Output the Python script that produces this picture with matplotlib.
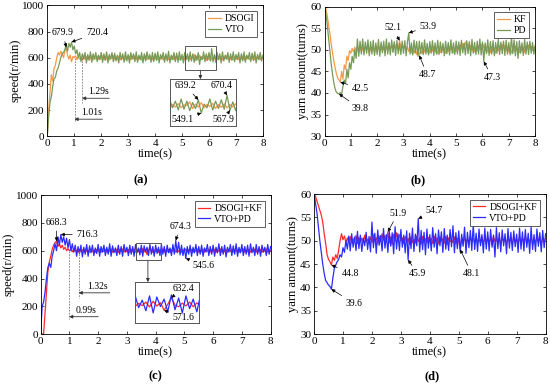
import numpy as np
import matplotlib.pyplot as plt
from matplotlib.patches import Rectangle

plt.rcParams['font.family'] = ['Liberation Serif', 'DejaVu Serif']
plt.rcParams['mathtext.fontset'] = 'stix'

# sample times (0.05 s step)
time_s = np.linspace(0, 8, 161)

# (a) speed, DSOGI vs VTO
speed_dsogi = [
    0, 200, 330, 470, 420, 520, 540, 600, 640, 620, 650, 630, 600, 650, 680, 620, 590, 620, 570, 610,
    600, 615, 585, 610, 590, 605, 580, 612, 588, 608, 585, 610, 592, 615, 583, 606, 590, 612, 586, 604,
    592, 614, 584, 608, 590, 612, 582, 606, 594, 616, 585, 607, 589, 611, 583, 605, 593, 613, 586, 609,
    588, 612, 584, 607, 591, 614, 586, 606, 589, 610, 583, 608, 592, 615, 585, 605, 588, 611, 584, 607,
    590, 613, 585, 606, 589, 612, 583, 608, 591, 614, 586, 605, 588, 610, 584, 607, 592, 613, 585, 606,
    589, 611, 583, 607, 590, 614, 586, 605, 600, 625, 580, 610, 590, 620, 585, 608, 594, 615, 580, 606,
    588, 612, 584, 607, 591, 613, 585, 606, 589, 611, 583, 608, 592, 614, 586, 605, 588, 610, 584, 607,
    590, 612, 585, 606, 589, 613, 583, 608, 591, 614, 586, 605, 588, 611, 584, 607, 592, 613, 585, 606,
    595]
speed_vto = [
    0, 150, 260, 300, 380, 440, 450, 500, 520, 560, 600, 630, 640, 660, 700, 650, 710, 680, 720, 660,
    690, 630, 660, 600, 640, 570, 630, 590, 640, 560, 625, 580, 645, 565, 630, 590, 640, 570, 620, 585,
    640, 565, 630, 580, 645, 560, 625, 590, 640, 570, 635, 575, 620, 560, 640, 585, 630, 565, 645, 575,
    625, 560, 640, 590, 630, 570, 645, 565, 620, 585, 640, 560, 630, 575, 645, 590, 625, 565, 640, 570,
    635, 580, 645, 560, 625, 590, 640, 565, 630, 575, 650, 560, 620, 585, 640, 570, 635, 565, 645, 580,
    625, 560, 640, 585, 630, 570, 645, 575, 630, 565, 620, 580, 639, 549, 610, 585, 645, 570, 630, 580,
    640, 575, 670, 568, 625, 565, 640, 585, 630, 560, 645, 575, 620, 590, 640, 565, 630, 580, 645, 570,
    625, 585, 640, 560, 630, 575, 645, 565, 620, 590, 640, 570, 635, 580, 645, 560, 625, 585, 640, 575,
    620]

# (b) yarn amount, KF vs PD
yarn_kf = [
    60, 59.5, 58, 56, 54, 51.5, 49.5, 47.5, 46, 44.5, 43.5, 43, 42.5, 45, 43.2, 46.5, 45.5, 48.5, 47.5, 49.8,
    49.2, 50.3, 49.5, 50.6, 49.8, 50.2, 49.4, 50.8, 49.6, 50.4, 49.3, 50.7, 49.9, 50.5, 49.2, 50.6, 49.7, 50.3, 49.4, 50.8,
    49.5, 50.9, 49.8, 51.2, 49.6, 50.7, 49.3, 51.0, 49.8, 51.4, 50.2, 51.1, 49.7, 51.5, 50.3, 51.3, 49.9, 52.1, 50.5, 51.2,
    50.4, 51.0, 49.8, 50.7, 49.6, 50.5, 49.3, 50.4, 49.2, 50.1, 48.9, 49.9, 48.7, 49.8, 49.1, 50.3, 49.5, 50.6, 49.4, 50.2,
    49.3, 50.5, 49.7, 50.8, 49.5, 50.3, 49.1, 50.2, 49.4, 50.6, 49.8, 50.4, 49.2, 50.1, 49.6, 50.7, 49.9, 50.5, 49.3, 50.2,
    49.6, 50.8, 50.1, 51.2, 50.4, 51.5, 50.6, 51.8, 50.9, 51.4, 50.3, 51.0, 49.8, 50.6, 49.5, 50.3, 49.7, 50.9, 50.1, 51.3,
    50.4, 51.1, 49.9, 50.5, 49.5, 50.2, 49.3, 50.6, 49.6, 50.4, 49.2, 50.3, 49.8, 50.9, 50.2, 51.3, 50.5, 51.0, 49.8, 50.6,
    49.5, 50.3, 49.2, 50.5, 49.6, 50.8, 49.9, 50.4, 49.3, 50.7, 49.7, 50.5, 49.4, 50.9, 50.2, 51.1, 50.4, 50.8, 50.0, 50.6,
    50.5]
yarn_pd = [
    60, 58.5, 56, 53, 50, 47, 44.5, 42.5, 41, 40.2, 39.9, 39.8, 40.1, 39.8, 41.5, 43, 42.2, 45.5, 43.5, 47,
    45.5, 48.5, 47, 50, 48, 52.5, 48.5, 52, 49, 52.5, 48.8, 51.8, 49.2, 52.3, 48.6, 51.9, 49, 52.2, 48.7, 51.6,
    48.9, 52.4, 48.5, 51.8, 49.3, 52.0, 48.6, 52.5, 49.0, 51.7, 48.8, 52.3, 49.4, 51.9, 48.7, 52.2, 49.1, 51.5, 48.9, 52.0,
    49.2, 52.1, 48.6, 51.8, 53.9, 49.0, 51.6, 48.8, 52.2, 49.3, 51.9, 48.5, 52.0, 49.2, 51.7, 48.9, 52.3, 49.0, 51.5, 48.8,
    51.9, 49.2, 52.1, 48.7, 51.6, 49.0, 52.2, 48.9, 51.8, 49.3, 51.5, 48.6, 52.0, 49.1, 51.7, 48.8, 52.3, 49.2, 51.6, 48.9,
    52.0, 49.0, 51.8, 48.7, 52.2, 49.3, 51.5, 48.8, 52.1, 49.1, 51.9, 48.6, 52.4, 49.2, 51.7, 48.9, 52.0, 49.0, 52.5, 48.8,
    51.8, 47.3, 51.6, 49.1, 52.3, 48.7, 51.9, 49.0, 52.1, 48.6, 51.7, 49.2, 52.4, 48.9, 51.8, 49.1, 52.0, 48.7, 52.2, 49.0,
    51.7, 48.8, 53.0, 49.1, 52.3, 48.6, 51.9, 48.0, 52.1, 49.2, 51.6, 48.7, 52.4, 49.0, 51.8, 48.9, 52.0, 49.2, 51.7, 49.0,
    51.0]

# (c) speed, DSOGI+KF vs VTO+PD
speed_dsogi_kf = [
    0, 0, 0, 150, 300, 450, 520, 560, 610, 640, 660, 668, 630, 650, 620, 640, 610, 625, 600, 615,
    600, 612, 592, 608, 596, 604, 590, 610, 594, 606, 588, 612, 596, 605, 590, 611, 593, 607, 589, 609,
    595, 612, 588, 606, 594, 610, 590, 608, 596, 613, 589, 605, 592, 611, 587, 607, 595, 612, 590, 606,
    593, 610, 588, 607, 596, 612, 590, 605, 594, 611, 588, 615, 592, 608, 572, 600, 632, 596, 589, 606,
    593, 611, 589, 607, 595, 612, 590, 606, 594, 610, 588, 608, 596, 613, 590, 605, 593, 611, 589, 607,
    595, 612, 590, 606, 594, 610, 588, 608, 596, 612, 590, 605, 593, 611, 589, 607, 595, 612, 590, 606,
    594, 610, 588, 608, 596, 613, 590, 605, 593, 611, 589, 607, 595, 612, 590, 606, 594, 610, 588, 608,
    596, 612, 590, 605, 593, 611, 589, 607, 595, 612, 590, 606, 594, 610, 588, 608, 596, 613, 590, 605,
    598]
speed_vto_pd = [
    0, 200, 230, 300, 400, 480, 510, 480, 560, 600, 650, 600, 700, 640, 716, 660, 700, 640, 690, 620,
    680, 600, 650, 590, 640, 560, 630, 580, 640, 555, 625, 575, 645, 560, 635, 585, 640, 565, 620, 580,
    645, 560, 630, 590, 640, 565, 625, 575, 650, 560, 635, 585, 620, 565, 640, 575, 630, 560, 645, 590,
    625, 565, 640, 575, 630, 560, 645, 585, 620, 570, 640, 560, 635, 590, 625, 565, 645, 575, 630, 560,
    640, 580, 625, 565, 645, 575, 630, 560, 640, 585, 620, 565, 645, 575, 674, 585, 660, 570, 640, 565,
    620, 545, 630, 575, 640, 560, 625, 585, 645, 565, 630, 575, 640, 560, 620, 590, 645, 565, 630, 575,
    640, 560, 625, 585, 650, 565, 630, 575, 640, 555, 625, 590, 645, 565, 635, 575, 650, 560, 625, 585,
    645, 565, 630, 575, 640, 560, 650, 585, 625, 565, 645, 575, 630, 560, 640, 590, 625, 565, 645, 575,
    630]

# (d) yarn amount, DSOGI+KF vs VTO+PD
yarn_dsogi_kf = [
    60, 59.5, 58.5, 57.5, 56.5, 55.5, 54, 51.5, 49.5, 47, 46, 45.5, 44.8, 46.5, 45.8, 47, 46.2, 48, 50, 51.5,
    50.2, 51.0, 49.6, 50.6, 49.8, 50.9, 49.5, 50.4, 49.9, 51.1, 49.4, 50.7, 49.8, 50.5, 49.6, 51.2, 49.7, 50.3, 49.5, 50.8,
    49.6, 51.3, 49.9, 50.6, 49.3, 51.0, 49.8, 51.5, 50.1, 51.1, 49.7, 51.9, 49.5, 50.8, 49.2, 51.4, 49.8, 51.7, 50.2, 51.3,
    49.9, 50.6, 49.4, 50.9, 49.7, 50.5, 49.2, 50.8, 49.6, 50.3, 49.5, 51.0, 49.8, 50.6, 49.3, 50.9, 49.6, 50.4, 49.5, 50.7,
    49.8, 50.5, 49.4, 51.0, 49.7, 50.6, 49.3, 50.8, 49.9, 50.4, 49.5, 50.9, 49.2, 50.6, 49.8, 50.3, 49.6, 50.8, 49.4, 50.5,
    49.9, 48.1, 50.6, 49.3, 50.8, 49.6, 50.4, 49.2, 50.9, 49.8, 50.5, 49.4, 50.7, 49.6, 50.3, 49.5, 50.9, 49.7, 50.4, 49.3,
    50.8, 49.6, 50.5, 49.3, 50.9, 49.8, 50.4, 49.5, 50.7, 49.2, 50.6, 49.8, 50.3, 49.4, 50.8, 49.7, 50.5, 49.3, 50.9, 49.6,
    50.4, 49.5, 50.7, 49.3, 50.6, 49.8, 50.9, 49.4, 50.5, 49.6, 50.8, 49.2, 50.4, 49.7, 50.6, 49.5, 50.9, 49.3, 50.5, 49.8,
    50.5]
yarn_vto_pd = [
    60, 58, 56, 53, 50, 47.5, 45, 43, 41.5, 41, 40.5, 40.2, 39.6, 42, 44, 44.8, 45.5, 46, 47, 46.5,
    48.5, 47.5, 50, 48.2, 51, 47.8, 51.5, 48.6, 50.8, 47.9, 52, 48.3, 51.2, 47.7, 50.6, 48.9, 51.8, 48.1, 50.9, 47.6,
    54.0, 48.5, 51.6, 47.3, 52.3, 49.0, 51.1, 47.8, 52.6, 48.4, 51.3, 47.5, 52.0, 48.8, 51.7, 47.2, 53.0, 48.2, 51.5, 47.9,
    52.4, 48.6, 51.2, 47.4, 52.1, 45.9, 51.6, 48.3, 52.7, 47.7, 51.4, 48.9, 54.7, 47.6, 52.2, 48.1, 51.8, 47.0, 52.5, 48.4,
    51.3, 47.8, 52.8, 48.6, 51.5, 47.2, 52.3, 48.9, 51.9, 47.5, 52.6, 48.2, 51.2, 47.9, 52.4, 48.7, 53.2, 47.4, 51.7, 48.3,
    52.1, 47.6, 51.4, 48.8, 52.9, 47.3, 51.8, 48.5, 52.2, 47.9, 53.5, 48.1, 51.6, 47.7, 52.5, 48.9, 51.3, 47.4, 52.7, 48.2,
    51.9, 47.8, 52.4, 48.6, 51.2, 46.5, 52.8, 48.3, 51.7, 47.6, 52.3, 48.9, 51.5, 47.2, 52.6, 48.4, 51.8, 47.9, 52.1, 48.7,
    51.4, 47.5, 52.7, 48.2, 51.9, 47.8, 52.4, 48.6, 51.6, 47.3, 52.9, 48.1, 51.3, 47.7, 52.5, 48.8, 51.7, 47.6, 52.2, 48.5,
    51.5]

ORANGE = '#f69a48'
GREEN = '#789a58'
RED = '#ff2a2a'
BLUE = '#2b2bff'
LW = 0.9
TICK_FS = 8
LABEL_FS = 9
NOTE_FS = 7


def style_axes(ax, ylabel, ylim, yticks):
    ax.set_xlim(0, 8)
    ax.set_ylim(*ylim)
    ax.set_xticks(range(9))
    ax.set_yticks(yticks)
    ax.tick_params(direction='in', top=True, right=True, labelsize=TICK_FS,
                   length=2.5, width=0.5, pad=2)
    for s in ax.spines.values():
        s.set_linewidth(0.6)
    ax.set_xlabel('time(s)', fontsize=LABEL_FS, labelpad=0)
    ax.set_ylabel(ylabel, fontsize=LABEL_FS, labelpad=1)


def add_legend(ax):
    leg = ax.legend(loc='upper right', fontsize=7, handlelength=1.3,
                    handletextpad=0.4, borderpad=0.3, labelspacing=0.2,
                    fancybox=False, framealpha=1, borderaxespad=0.6)
    leg.get_frame().set_edgecolor('#444444')
    leg.get_frame().set_linewidth(0.6)


def note(ax, label, xy, xytext):
    ax.annotate(label, xy=xy, xytext=xytext, fontsize=NOTE_FS, ha='center', va='center',
                arrowprops=dict(arrowstyle='-|>', color='k', lw=0.5,
                                mutation_scale=5, shrinkA=1, shrinkB=0))


def time_mark(ax, t, y_end, y_arrow, x_right, label):
    ax.plot([t, t], [600, y_end], ls=(0, (2, 1.5)), color='#777777', lw=0.6)
    ax.annotate('', xy=(t, y_arrow), xytext=(x_right, y_arrow),
                arrowprops=dict(arrowstyle='-|>', color='#333333', lw=0.6,
                                mutation_scale=5, shrinkA=0, shrinkB=0))
    ax.text((t + x_right) / 2 + 0.1, y_arrow + 15, label, fontsize=NOTE_FS,
            ha='center', va='bottom')


def zoom_box(ax, x0, x1, y0, y1, arrow_x, inset_top, bounds, xlim, ylim,
             series, colors):
    ax.add_patch(Rectangle((x0, y0), x1 - x0, y1 - y0, fill=False,
                           edgecolor='#555555', lw=0.7, zorder=5))
    ax.annotate('', xy=(arrow_x, inset_top), xytext=(arrow_x, y0),
                arrowprops=dict(arrowstyle='-|>', color='#333333', lw=0.6,
                                mutation_scale=5, shrinkA=0, shrinkB=0))
    ins = ax.inset_axes(bounds, transform=ax.transData)
    for y, c in zip(series, colors):
        ins.plot(time_s, y, color=c, lw=LW)
    ins.set_xlim(*xlim)
    ins.set_ylim(*ylim)
    ins.set_xticks([])
    ins.set_yticks([])
    for s in ins.spines.values():
        s.set_edgecolor('#555555')
        s.set_linewidth(0.7)
    return ins


fig = plt.figure(figsize=(5.5, 3.88), dpi=100)

# ---- (a)
ax = fig.add_axes([0.086, 0.649, 0.392, 0.337])
ax.plot(time_s, speed_dsogi, color=ORANGE, lw=LW, label='DSOGI')
ax.plot(time_s, speed_vto, color=GREEN, lw=LW, label='VTO')
style_axes(ax, 'speed(r/min)', (0, 1000), range(0, 1001, 200))
add_legend(ax)
note(ax, '679.9', (0.70, 680), (0.58, 790))
note(ax, '720.4', (0.90, 720), (1.84, 790))
time_mark(ax, 1.29, 250, 290, 2.3, '1.29s')
time_mark(ax, 1.01, 105, 130, 2.05, '1.01s')
ins = zoom_box(ax, 5.1, 6.25, 505, 690, 5.68, 436, [4.54, 77, 2.45, 359],
               (5.1, 6.25), (460, 780), [speed_dsogi, speed_vto], [ORANGE, GREEN])
for lab, xy, txt in [('639.2', (5.6, 639), (0.24, 0.86)),
                     ('670.4', (6.1, 670), (0.78, 0.86)),
                     ('549.1', (5.65, 549), (0.2, 0.15)),
                     ('567.9', (6.15, 568), (0.82, 0.15))]:
    ins.annotate(lab, xy=xy, xytext=txt, textcoords='axes fraction',
                 fontsize=NOTE_FS, ha='center', va='center',
                 arrowprops=dict(arrowstyle='-|>', color='k', lw=0.5,
                                 mutation_scale=5, shrinkA=1, shrinkB=0))

# ---- (b)
ax = fig.add_axes([0.590, 0.649, 0.383, 0.334])
ax.plot(time_s, yarn_kf, color=ORANGE, lw=LW, label='KF')
ax.plot(time_s, yarn_pd, color=GREEN, lw=LW, label='PD')
style_axes(ax, 'yarn amount(turns)', (30, 60), range(30, 61, 5))
add_legend(ax)
note(ax, '52.1', (2.85, 52.1), (2.6, 55.1))
note(ax, '53.9', (3.2, 53.9), (3.93, 55.4))
note(ax, '42.5', (0.6, 42.5), (1.36, 41.1))
note(ax, '39.8', (0.55, 39.8), (1.36, 36.3))
note(ax, '48.7', (3.6, 48.7), (3.9, 44.2))
note(ax, '47.3', (6.05, 47.3), (6.37, 43.6))

# ---- (c)
ax = fig.add_axes([0.074, 0.139, 0.418, 0.358])
ax.plot(time_s, speed_dsogi_kf, color=RED, lw=LW, label='DSOGI+KF')
ax.plot(time_s, speed_vto_pd, color=BLUE, lw=LW, label='VTO+PD')
style_axes(ax, 'speed(r/min)', (0, 1000), range(0, 1001, 200))
add_legend(ax)
note(ax, '668.3', (0.55, 668), (0.56, 804))
note(ax, '716.3', (0.70, 716), (1.62, 719))
note(ax, '674.3', (4.7, 674), (4.85, 775))
note(ax, '545.6', (5.05, 545), (5.65, 496))
time_mark(ax, 1.32, 260, 297, 2.4, '1.32s')
time_mark(ax, 0.99, 110, 125, 2.0, '0.99s')
ins = zoom_box(ax, 3.3, 4.18, 532, 655, 3.73, 374, [3.28, 79, 2.23, 295],
               (3.3, 4.18), (512, 705), [speed_dsogi_kf, speed_vto_pd], [RED, BLUE])
for lab, xy, txt in [('632.4', (3.8, 632), (0.76, 0.84)),
                     ('571.6', (3.7, 572), (0.76, 0.13))]:
    ins.annotate(lab, xy=xy, xytext=txt, textcoords='axes fraction',
                 fontsize=NOTE_FS, ha='center', va='center',
                 arrowprops=dict(arrowstyle='-|>', color='k', lw=0.5,
                                 mutation_scale=5, shrinkA=1, shrinkB=0))

# ---- (d)
ax = fig.add_axes([0.571, 0.139, 0.421, 0.361])
ax.plot(time_s, yarn_dsogi_kf, color=RED, lw=LW, label='DSOGI+KF')
ax.plot(time_s, yarn_vto_pd, color=BLUE, lw=LW, label='VTO+PD')
style_axes(ax, 'yarn amount(turns)', (30, 60), range(30, 61, 5))
add_legend(ax)
note(ax, '51.9', (2.55, 51.9), (2.9, 55.9))
note(ax, '54.7', (3.6, 54.7), (4.15, 56.4))
note(ax, '44.8', (0.6, 44.8), (1.24, 43.0))
note(ax, '39.6', (0.6, 39.6), (1.38, 36.6))
note(ax, '45.9', (3.25, 45.9), (3.58, 42.9))
note(ax, '48.1', (5.05, 48.1), (5.45, 42.9))

for lab, x, y in [('(a)', 0.255, 0.536), ('(b)', 0.76, 0.536),
                  ('(c)', 0.282, 0.031), ('(d)', 0.785, 0.031)]:
    fig.text(x, y, lab, fontsize=9, fontweight='bold', ha='center', va='center')

fig.savefig('out.png', dpi=100)
